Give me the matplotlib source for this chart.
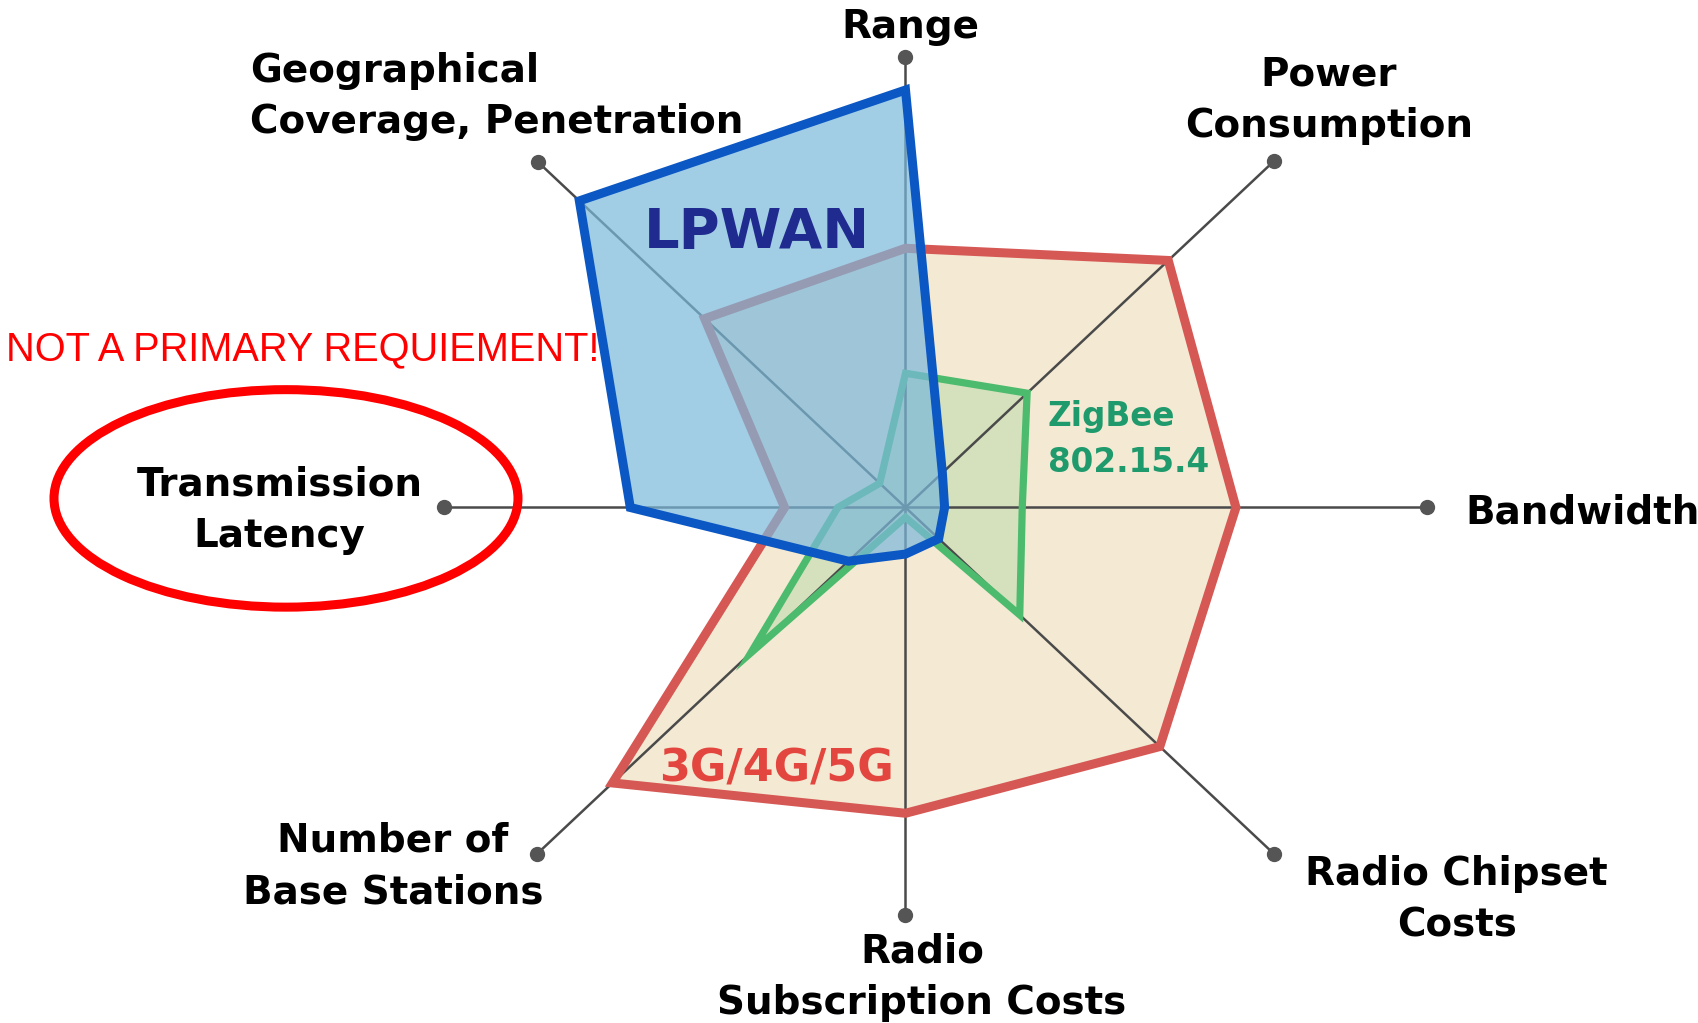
import numpy as np
import matplotlib
matplotlib.use("Agg")
import matplotlib.pyplot as plt
from matplotlib.patches import Polygon, Ellipse

# ---------------- data ----------------
categories = ["Range", "Power\nConsumption", "Bandwidth", "Radio Chipset\nCosts",
              "Radio\nSubscription Costs", "Number of\nBase Stations",
              "Transmission\nLatency", "Geographical\nCoverage, Penetration"]
angles_deg = [90, 45, 0, -45, -90, -135, 180, 135]
axis_len = [0.92, 1.0, 1.0, 1.0, 0.832, 1.0, 0.886, 0.996]

lpwan = [0.852, 0.10, 0.075, 0.09, 0.095, 0.155, 0.528, 0.885]
cellular = [0.529, 0.713, 0.634, 0.69, 0.624, 0.795, 0.232, 0.545]
zigbee = [0.274, 0.33, 0.224, 0.31, 0.02, 0.42, 0.13, 0.07]

series_names = ["LPWAN", "ZigBee\n802.15.4", "3G/4G/5G"]
note_text = "NOT A PRIMARY REQUIEMENT!"

# ---------------- layout ----------------
W, H = 1699, 1023
DPI = 100
cx, cy = 905.5, 507.5      # centre of the radar in pixels
sx, sy = 521.2, 490.0      # pixels per unit

fig = plt.figure(figsize=(W / DPI, H / DPI), dpi=DPI)
fig.patch.set_facecolor("white")
ax = fig.add_axes([0, 0, 1, 1])
ax.set_xlim(-cx / sx, (W - cx) / sx)
ax.set_ylim(-(H - cy) / sy, cy / sy)
ax.axis("off")

theta = np.deg2rad(angles_deg)


def xy(vals):
    v = np.asarray(vals, dtype=float)
    return np.column_stack([v * np.cos(theta), v * np.sin(theta)])


# 3G/4G/5G
ax.add_patch(Polygon(xy(cellular), closed=True, facecolor="#f4ead3",
                     edgecolor="none", zorder=1))
# ZigBee fill
ax.add_patch(Polygon(xy(zigbee), closed=True, facecolor="#8fcf8a", alpha=0.30,
                     edgecolor="none", zorder=1.2))

# axis spokes
ends = xy(axis_len)
for (ex, ey) in ends:
    ax.plot([0, ex], [0, ey], color="#4a4a4a", lw=1.8, zorder=2,
            solid_capstyle="butt")
ax.plot(ends[:, 0], ends[:, 1], "o", color="#555555", ms=10, zorder=2.1,
        linestyle="none")

# edges
ax.add_patch(Polygon(xy(cellular), closed=True, facecolor="none",
                     edgecolor="#d65854", lw=6.5, joinstyle="miter", zorder=3))
ax.add_patch(Polygon(xy(zigbee), closed=True, facecolor="none",
                     edgecolor="#4cbb6e", lw=5.2, joinstyle="miter", zorder=3.1))

# LPWAN
ax.add_patch(Polygon(xy(lpwan), closed=True, facecolor="#7ab8db", alpha=0.70,
                     edgecolor="none", zorder=4))
ax.add_patch(Polygon(xy(lpwan), closed=True, facecolor="none",
                     edgecolor="#0b57c4", lw=6.5, joinstyle="miter", zorder=5))

# ---------------- text overlay (pixel coordinates) ----------------
ov = fig.add_axes([0, 0, 1, 1], facecolor="none")
ov.set_xlim(0, W)
ov.set_ylim(H, 0)
ov.axis("off")

lab_font = dict(family="DejaVu Sans", fontweight="bold", fontsize=28,
                color="black", linespacing=1.45)
# (x, baseline of last line, alignment)
label_pos = [
    (910.7, 38.3, "center"),
    (1329, 136.7, "center"),
    (1465, 523, "left"),
    (1456.7, 936.7, "center"),
    (922, 1014, "center"),
    (393, 903.3, "center"),
    (279.5, 546.7, "center"),
    (250, 133.3, "left"),
]
for lab, (px, py, ha) in zip(categories, label_pos):
    ov.text(px, py, lab, ha=ha, va="baseline", multialignment=ha, **lab_font)

ov.text(643.8, 248.3, series_names[0], ha="left", va="baseline",
        family="DejaVu Sans", fontweight="bold", fontsize=40.3, color="#1f2b8e")
ov.text(1047.8, 471.7, series_names[1], ha="left", va="baseline",
        family="DejaVu Sans", fontweight="bold", fontsize=23.5, color="#1f9a6c",
        linespacing=1.5)
ov.text(659.4, 781.7, series_names[2], ha="left", va="baseline",
        family="DejaVu Sans", fontweight="bold", fontsize=32, color="#e3463f")

ov.text(6, 360, note_text, ha="left", va="baseline",
        family=["Liberation Sans", "DejaVu Sans"], fontsize=28.6, color="#ff0000")
ov.add_patch(Ellipse((286, 498.4), 464, 217.5, facecolor="none",
                     edgecolor="#ff0000", lw=6.5))

fig.savefig("out.png", dpi=DPI, facecolor="white")
